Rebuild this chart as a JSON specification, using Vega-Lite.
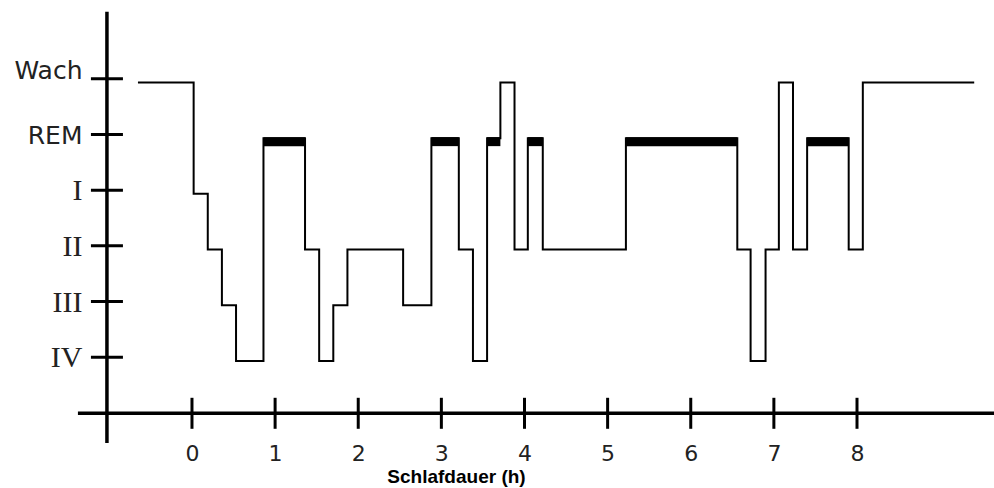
{
  "$schema": "https://vega.github.io/schema/vega-lite/v6.json",
  "autosize": {"type": "none"},
  "padding": {"left": 82, "top": 10, "right": 0, "bottom": 71.3},
  "width": 912,
  "height": 406.7,
  "background": "white",
  "config": {"view": {"stroke": null}},
  "datasets": {
    "hypno": [
      {"t": -0.65, "stage": 6},
      {"t": 0.02, "stage": 4},
      {"t": 0.19, "stage": 3},
      {"t": 0.36, "stage": 2},
      {"t": 0.53, "stage": 1},
      {"t": 0.86, "stage": 5},
      {"t": 1.36, "stage": 3},
      {"t": 1.53, "stage": 1},
      {"t": 1.70, "stage": 2},
      {"t": 1.87, "stage": 3},
      {"t": 2.54, "stage": 2},
      {"t": 2.88, "stage": 5},
      {"t": 3.21, "stage": 3},
      {"t": 3.38, "stage": 1},
      {"t": 3.55, "stage": 5},
      {"t": 3.71, "stage": 6},
      {"t": 3.88, "stage": 3},
      {"t": 4.04, "stage": 5},
      {"t": 4.22, "stage": 3},
      {"t": 5.22, "stage": 5},
      {"t": 6.56, "stage": 3},
      {"t": 6.72, "stage": 1},
      {"t": 6.90, "stage": 3},
      {"t": 7.06, "stage": 6},
      {"t": 7.23, "stage": 3},
      {"t": 7.40, "stage": 5},
      {"t": 7.90, "stage": 3},
      {"t": 8.07, "stage": 6},
      {"t": 9.41, "stage": 6}
    ],
    "rem": [
      {"start": 0.86, "end": 1.36, "stage": 5},
      {"start": 2.88, "end": 3.21, "stage": 5},
      {"start": 3.55, "end": 3.71, "stage": 5},
      {"start": 4.04, "end": 4.22, "stage": 5},
      {"start": 5.22, "end": 6.56, "stage": 5},
      {"start": 7.40, "end": 7.90, "stage": 5}
    ],
    "xticks": [
      {"h": 0}, {"h": 1}, {"h": 2}, {"h": 3}, {"h": 4}, {"h": 5}, {"h": 6}, {"h": 7}, {"h": 8}
    ],
    "yticks": [
      {"level": 1}, {"level": 2}, {"level": 3}, {"level": 4}, {"level": 5}, {"level": 6}
    ],
    "axes": [
      {"x0": -1.372, "x1": 9.648, "xa": -1.023, "y0": -0.47, "y1": 7.27}
    ]
  },
  "layer": [
    {
      "data": {"name": "axes"},
      "mark": {"type": "rule", "color": "black", "strokeWidth": 3.5, "yOffset": -3.4},
      "encoding": {
        "x": {"field": "x0", "type": "quantitative", "scale": {"domain": [-1.323, 9.648], "nice": false, "zero": false},
          "axis": {
            "values": [0, 1, 2, 3, 4, 5, 6, 7, 8],
            "format": "d",
            "domain": false, "ticks": false, "grid": false, "tickSize": 0,
            "labelFont": "DejaVu Sans", "labelFontSize": 22, "labelColor": "#222",
            "labelPadding": 27, "labelFlush": false,
            "title": "Schlafdauer (h)",
            "titleFont": "Liberation Sans", "titleFontWeight": "bold", "titleFontSize": 19,
            "titleColor": "black", "titleX": 374, "titleY": 66, "titleBaseline": "alphabetic", "titleAlign": "center"
          }},
        "x2": {"field": "x1"},
        "y": {"datum": 0, "type": "quantitative", "scale": {"domain": [0, 7.3], "nice": false, "zero": false},
          "axis": {
            "values": [1, 2, 3, 4, 5, 6],
            "domain": false, "ticks": false, "grid": false, "tickSize": 0,
            "labelPadding": 0,
            "labelExpr": "({'1':'IV','2':'III','3':'II','4':'I','5':'REM','6':'Wach'})[datum.value]",
            "labelFont": {"condition": {"test": "datum.value <= 4", "value": "Liberation Serif"}, "value": "DejaVu Sans"},
            "labelFontSize": {"condition": {"test": "datum.value <= 4", "value": 30}, "value": 25},
            "labelOffset": {"condition": {"test": "datum.value == 6", "value": -12}, "value": -3},
            "labelColor": "#222",
            "labelBaseline": "middle",
            "title": null
          }}
      }
    },
    {
      "data": {"name": "axes"},
      "mark": {"type": "rule", "color": "black", "strokeWidth": 3.5},
      "encoding": {
        "x": {"field": "xa", "type": "quantitative"},
        "y": {"field": "y0", "type": "quantitative"},
        "y2": {"field": "y1"}
      }
    },
    {
      "data": {"name": "xticks"},
      "mark": {"type": "tick", "orient": "vertical", "color": "black", "size": 31, "thickness": 3, "yOffset": -3.4, "opacity": 1},
      "encoding": {
        "x": {"field": "h", "type": "quantitative"},
        "y": {"datum": 0, "type": "quantitative"}
      }
    },
    {
      "data": {"name": "yticks"},
      "mark": {"type": "tick", "orient": "horizontal", "color": "black", "size": 32, "thickness": 3, "yOffset": -3.7, "opacity": 1},
      "encoding": {
        "x": {"datum": -1.023, "type": "quantitative"},
        "y": {"field": "level", "type": "quantitative"}
      }
    },
    {
      "data": {"name": "rem"},
      "mark": {"type": "rule", "color": "black", "strokeWidth": 9, "yOffset": 3.5},
      "encoding": {
        "x": {"field": "start", "type": "quantitative"},
        "x2": {"field": "end"},
        "y": {"field": "stage", "type": "quantitative"}
      }
    },
    {
      "data": {"name": "hypno"},
      "mark": {"type": "line", "interpolate": "step-after", "color": "black", "strokeWidth": 2},
      "encoding": {
        "x": {"field": "t", "type": "quantitative"},
        "y": {"field": "stage", "type": "quantitative"}
      }
    }
  ]
}
